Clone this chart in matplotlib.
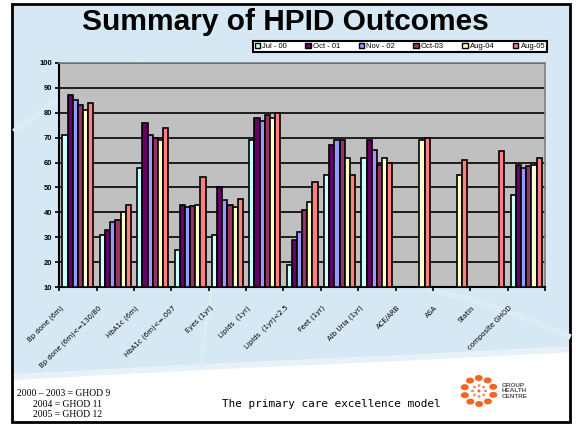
import numpy as np
import matplotlib
matplotlib.use('Agg')
import matplotlib.pyplot as plt
from matplotlib.patches import Rectangle, Polygon, Ellipse, Patch
from matplotlib.transforms import ScaledTranslation

nan = np.nan

categories = ['Bp done (6m)', 'Bp done (6m)<=130/80', 'HbA1c (6m)', 'HbA1c (6m)<=.007',
              'Eyes (1yr)', 'Lipids  (1yr)', 'Lipids  (1yr)<2.5', 'Feet (1yr)',
              'Alb Uria (1yr)', 'ACE/ARB', 'ASA', 'Statin', 'composite GHOD']
series = ['Jul - 00', 'Oct - 01', 'Nov - 02', 'Oct-03', 'Aug-04', 'Aug-05']

jul00 = [71, 31, 58, 25, 31, 69, 19, 55, 62, nan, nan, nan, 47]
oct01 = [87, 33, 76, 43, 50, 78, 29, 67, 69, nan, nan, nan, 59]
nov02 = [85, 36, 71, 42, 45, 76.5, 32, 69, 65, nan, nan, nan, 58]
oct03 = [83, 37, 70, 42.5, 43, 79, 41, 69, 59, nan, nan, nan, 58.5]
aug04 = [81, 40, 69, 43, 42, 78, 44, 62, 62, 69, 55, nan, 59]
aug05 = [84, 43, 74, 54, 45.5, 80, 52, 55, 60, 70, 61, 64.5, 62]

colors = ['#CCFFFF', '#660066', '#9999FF', '#993366', '#FFFFCC', '#FF8080']
yticks = list(range(10, 101, 10))

W, H = 576, 424
fig = plt.figure(figsize=(W / 100, H / 100), dpi=100, facecolor='white')


def fx(x):
    return x / W


def fy(y):
    return 1 - y / H


# slide background
bg = fig.add_axes([0, 0, 1, 1], zorder=-5)
bg.set_xlim(0, W)
bg.set_ylim(H, 0)
bg.axis('off')
bg.add_patch(Rectangle((12, 4), 558, 418, facecolor='#D5E8F3', edgecolor='none'))
# faint swooshes
bg.plot([16, 50, 95, 140], [130, 104, 80, 62], color='#DBECF5', lw=4)
bg.plot([201, 204, 208, 212], [365, 338, 310, 290], color='#DBECF5', lw=3)
bg.plot([430, 480, 530, 568], [290, 302, 320, 336], color='#DBECF5', lw=4)
bg.add_patch(Polygon([(12, 380), (150, 372), (300, 365), (450, 358), (570, 352),
                      (570, 422), (12, 422)], closed=True, facecolor='white',
                     edgecolor='none'))
bg.add_patch(Polygon([(12, 374), (200, 364), (420, 354), (570, 346), (570, 352),
                      (420, 360), (200, 370), (12, 380)], closed=True,
                     facecolor='#E6F1F8', edgecolor='none'))
bg.add_patch(Rectangle((12, 4), 558, 418, facecolor='none', edgecolor='black',
                       lw=2))

# logo
cx, cy = 479, 391
for k in range(10):
    a = 2 * np.pi * k / 10 + 0.3
    bg.add_patch(Ellipse((cx + 15 * np.cos(a), cy + 13 * np.sin(a)), 8, 6,
                         facecolor='#F26522', edgecolor='none'))
for k in range(8):
    a = 2 * np.pi * k / 8
    bg.add_patch(Ellipse((cx + 6.5 * np.cos(a), cy + 5.5 * np.sin(a)), 3, 2.5,
                         facecolor='#F58A5A', edgecolor='none'))
bg.add_patch(Ellipse((cx, cy), 3, 3, facecolor='#F26522', edgecolor='none'))
bg.text(502, 391, 'GROUP\nHEALTH\nCENTRE', fontsize=4.6, color='#555555',
        fontweight='bold', va='center', ha='left', linespacing=1.15,
        family='Liberation Sans')

# title and footer texts
fig.text(fx(285), fy(22), 'Summary of HPID Outcomes', fontsize=21.5,
         fontweight='bold', ha='center', va='center', family='Liberation Sans')
fig.text(fx(17), fy(394), '2000 – 2003 = GHOD 9', fontsize=6.9,
         family='Liberation Serif', va='center')
fig.text(fx(33), fy(404.5), '2004 = GHOD 11', fontsize=6.9,
         family='Liberation Serif', va='center')
fig.text(fx(33), fy(414.5), '2005 = GHOD 12', fontsize=6.9,
         family='Liberation Serif', va='center')
fig.text(fx(331), fy(404), 'The primary care excellence model', fontsize=7.9,
         family='DejaVu Sans Mono', ha='center', va='center')

# chart
ax = fig.add_axes([fx(59.3), fy(287.3), fx(545) - fx(59.3), fy(62.7) - fy(287.3)])
ax.set_facecolor('#C0C0C0')
x = np.arange(len(categories))
values = [jul00, oct01, nov02, oct03, aug04, aug05]
bw = 0.83 / 6
for i, (vals, c, name) in enumerate(zip(values, colors, series)):
    v = np.array(vals, dtype=float)
    ax.bar(x - 0.415 + bw * (i + 0.5), v - 10, bottom=10, width=bw, color=c,
           edgecolor='black', linewidth=1.2, label=name, zorder=3)

ax.set_xlim(-0.5, len(categories) - 0.5)
ax.set_ylim(10, 100)
ax.set_yticks(yticks)
ax.set_yticklabels([str(t) for t in yticks], fontsize=5.5, fontweight='bold',
                   family='Liberation Sans')
ax.yaxis.grid(True, color='black', linewidth=1.2, zorder=0)
ax.set_axisbelow(True)
ax.set_xticks(np.arange(-0.5, len(categories), 1), minor=False)
ax.set_xticklabels([''] * (len(categories) + 1))
ax.set_xticks(x, minor=True)
ax.set_xticklabels(categories, minor=True, rotation=45, ha='right', va='center',
                   rotation_mode='anchor', fontsize=5,
                   family='Liberation Sans Narrow')
ax.tick_params(axis='x', which='minor', length=0, pad=14)
ax.tick_params(axis='x', which='major', length=3, width=1.2, direction='out')
ax.tick_params(axis='y', length=3, width=1.2, direction='out', pad=2)
shift = ScaledTranslation(-11 / 72, 0, fig.dpi_scale_trans)
for lab in ax.get_xticklabels(minor=True):
    lab.set_transform(lab.get_transform() + shift)
for s in ['left', 'bottom']:
    ax.spines[s].set_linewidth(1.5)
    ax.spines[s].set_color('black')
for s in ['top', 'right']:
    ax.spines[s].set_linewidth(1.2)
    ax.spines[s].set_color('#808080')

handles = [Patch(facecolor=c, edgecolor='black', linewidth=1) for c in colors]
leg = fig.legend(handles, series, loc='center', bbox_to_anchor=(fx(400), fy(46.5)),
                 ncol=6, frameon=True, fancybox=False,
                 handlelength=0.7, handleheight=0.7, handletextpad=0.3,
                 columnspacing=2.4, borderpad=0.25, edgecolor='black',
                 prop={'family': 'Liberation Sans', 'size': 5.5})
leg.get_frame().set_linewidth(1.5)
leg.get_frame().set_facecolor('white')
leg.get_frame().set_alpha(1)

fig.savefig('out.png', dpi=100, facecolor=fig.get_facecolor())
